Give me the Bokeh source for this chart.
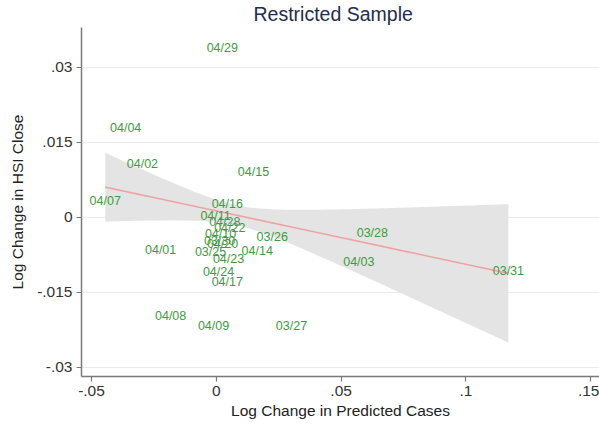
import numpy as np
from bokeh.plotting import figure
from bokeh.models import ColumnDataSource, Range1d, FixedTicker
from bokeh.core.properties import value
from bokeh.embed import file_html
from bokeh.resources import INLINE

# Daily observations: log change in predicted cases vs. log change in HSI close
dates = ["04/29", "04/04", "04/02", "04/15", "04/07", "04/16", "04/11", "04/28",
         "04/22", "04/10", "03/26", "03/30", "04/20", "03/25", "04/14", "04/23",
         "04/24", "04/17", "04/01", "03/28", "04/03", "03/31", "04/08", "04/09",
         "03/27"]
pred_cases = [0.0024, -0.0363, -0.0296, 0.0149, -0.0445, 0.0044, -0.0003, 0.0034,
              0.0054, 0.0017, 0.0224, 0.0013, 0.0025, -0.0023, 0.0164, 0.0049,
              0.0009, 0.0044, -0.0223, 0.0625, 0.0571, 0.1170, -0.0183, -0.0011,
              0.0301]
hsi_close = [0.0338, 0.0179, 0.0107, 0.0091, 0.0032, 0.0027, 0.0003, -0.0010,
             -0.0021, -0.0033, -0.0039, -0.0047, -0.0053, -0.0070, -0.0067, -0.0083,
             -0.0110, -0.0130, -0.0065, -0.0031, -0.0089, -0.0108, -0.0197, -0.0218,
             -0.0218]

# Regression estimates for the fitted line and its 95% confidence band
fit_coef = [0.00126, -0.1068]        # intercept, slope
fit_se = [0.000967, 0.0607]          # s.e. of the fit at the mean of x, s.e. of the slope

x_ticks = [-0.05, 0.0, 0.05, 0.1, 0.15]
x_tick_labels = ["-.05", "0", ".05", ".1", ".15"]
y_ticks = [-0.03, -0.015, 0.0, 0.015, 0.03]
y_tick_labels = ["-.03", "-.015", "0", ".015", ".03"]

# Student t critical values (two-sided 95%) by degrees of freedom
T95 = {20: 2.086, 21: 2.080, 22: 2.074, 23: 2.069, 24: 2.064, 25: 2.060,
       26: 2.056, 27: 2.052, 28: 2.048, 29: 2.045, 30: 2.042}

x = np.array(pred_cases)
n = len(x)
xg = np.linspace(x.min(), x.max(), 100)
yg = fit_coef[0] + fit_coef[1] * xg
se_pred = np.sqrt(fit_se[0] ** 2 + (fit_se[1] * (xg - x.mean())) ** 2)
half = T95[n - 2] * se_pred

FONT = "Liberation Sans"

p = figure(width=599, height=424, output_backend="svg", toolbar_location=None,
           x_range=Range1d(-0.054, 0.1535), y_range=Range1d(-0.03186, 0.03794),
           min_border_left=81, min_border_right=0, min_border_top=27,
           min_border_bottom=48)
p.background_fill_color = "white"
p.border_fill_color = "white"
p.outline_line_color = None

p.title.text = "Restricted Sample"
p.title.align = "left"
p.title.offset = 172
p.title.standoff = 2
p.title.vertical_align = "top"
p.title.text_font = FONT
p.title.text_font_size = "19.5px"
p.title.text_font_style = "normal"
p.title.text_color = "#1f2d4d"

# Axes
for ax in (p.xaxis[0], p.yaxis[0]):
    ax.axis_line_color = "#7a7a7a"
    ax.axis_line_width = 1.5
    ax.major_tick_line_color = "#7a7a7a"
    ax.major_tick_line_width = 1.2
    ax.major_tick_out = 5
    ax.major_tick_in = 0
    ax.minor_tick_line_color = None
    ax.major_label_text_font = FONT
    ax.major_label_text_font_size = "15.5px"
    ax.major_label_text_color = "#333333"
    ax.axis_label_text_font = FONT
    ax.axis_label_text_font_size = "15.5px"
    ax.axis_label_text_font_style = "normal"
    ax.axis_label_text_color = "#222222"

p.xaxis.ticker = FixedTicker(ticks=x_ticks)
p.xaxis.major_label_overrides = dict(zip(x_ticks, x_tick_labels))
p.xaxis.axis_label = "Log Change in Predicted Cases"
p.xaxis.major_label_standoff = 4
p.xaxis.axis_label_standoff = 3

p.yaxis.ticker = FixedTicker(ticks=y_ticks)
p.yaxis.major_label_overrides = dict(zip(y_ticks, y_tick_labels))
p.yaxis.axis_label = "Log Change in HSI Close"
p.yaxis.major_label_standoff = 4
p.yaxis.axis_label_standoff = 8

p.xgrid.grid_line_color = None
p.ygrid.grid_line_color = "#ebebeb"
p.ygrid.grid_line_width = 1

# Confidence band, fitted line, then date labels
p.varea(x=xg, y1=yg - half, y2=yg + half, fill_color="#e4e4e4", fill_alpha=1.0)
p.line(xg, yg, line_color="#f0a3a3", line_width=1.6)

src = ColumnDataSource(dict(x=pred_cases, y=hsi_close, label=dates))
p.text(x="x", y="y", text="label", source=src, text_align="center",
       text_baseline="middle", text_color="#3f9a3f",
       text_font=value(FONT), text_font_size="12.5px")

open("out.html", "w").write(file_html(p, INLINE))
